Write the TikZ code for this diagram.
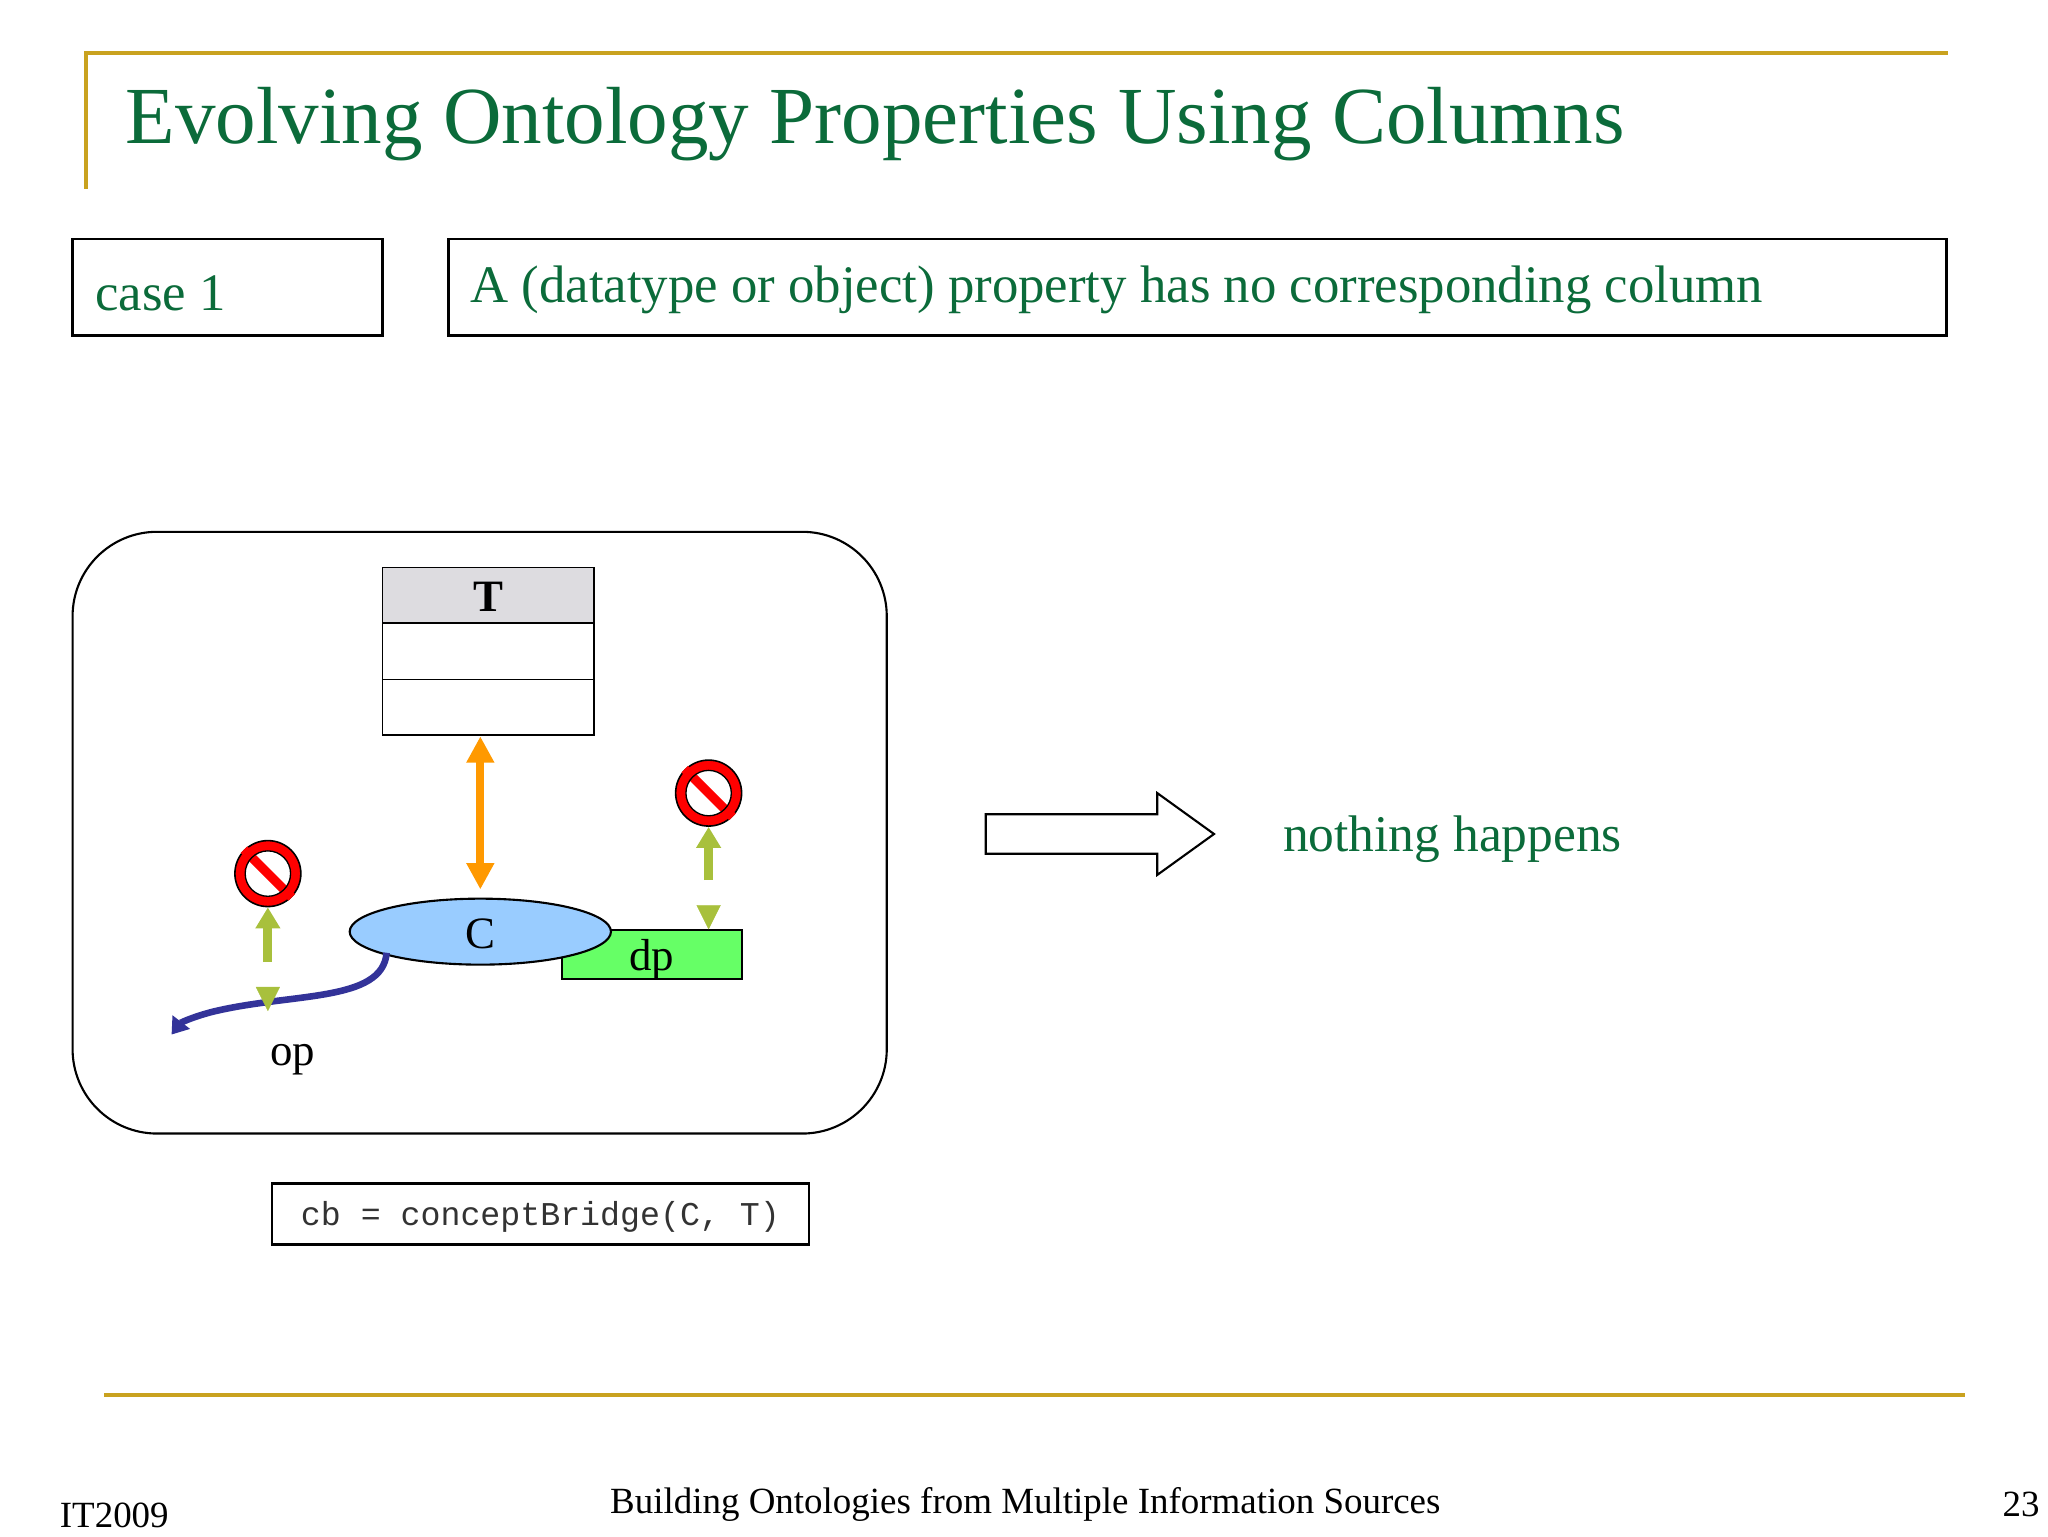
\documentclass[tikz,border=0pt]{standalone}
\usepackage{fontspec}
\setmainfont{Liberation Serif}
\setmonofont{Liberation Mono}
\usetikzlibrary{arrows.meta,shapes.arrows,shapes.geometric}
\definecolor{gold}{HTML}{C9A21F}
\definecolor{dgreen}{HTML}{0B6B3A}
\definecolor{lgreen}{HTML}{A8C03C}
\definecolor{orng}{HTML}{FF9900}
\definecolor{cblue}{HTML}{99CCFF}
\definecolor{dpgreen}{HTML}{66FF66}
\definecolor{navy}{HTML}{333399}
\definecolor{hdr}{HTML}{DDDCE0}
\tikzset{
  box/.style={draw=black,line width=1pt},
  gtxt/.style={text=dgreen,anchor=west,inner sep=0},
  nosign/.style={circle,draw=black,fill=red,minimum width=25pt,minimum height=25pt,inner sep=0,line width=0.6pt},
  garrow/.style={draw=lgreen,line width=3.5pt,-{Triangle[width=9pt,length=8pt]}},
  dtxt/.style={font=\fontsize{17}{19}\selectfont,inner sep=0}
}
\begin{document}
\begin{tikzpicture}[x=0.5pt,y=-0.5pt]
\useasboundingbox (0,0) rectangle (1552,1164);
% header
\draw[gold,line width=1.5pt] (65,143) -- (65,40) -- (1476,40);
\node[gtxt,font=\fontsize{30.7}{34}\selectfont] (title) at (95,94) {Evolving Ontology Properties Using Columns};
\draw[box] (55,181) rectangle (290,254);
\node[gtxt,font=\fontsize{20}{22}\selectfont] (case) at (72,222) {case 1};
\draw[box] (340,181) rectangle (1475,254);
\node[gtxt,font=\fontsize{20}{22}\selectfont] (desc) at (356,220) {A (datatype or object) property has no corresponding column};
% diagram frame
\draw[line width=0.8pt,rounded corners=32pt] (55,403) rectangle (672,859);
% table T
\fill[hdr] (290,430) rectangle (450,472);
\draw[line width=0.6pt] (290,430) rectangle (450,557);
\draw[line width=0.6pt] (290,472) -- (450,472) (290,515) -- (450,515);
\node[dtxt,font=\bfseries\fontsize{17}{19}\selectfont] (T) at (370,452) {T};
\coordinate (Tb) at (364,558);
% dp and C
\node[draw=black,fill=dpgreen,line width=0.8pt,minimum width=68pt,minimum height=18.5pt,inner sep=0] (dp) at (494,723.5) {};
\node[dtxt] at (494,727) {dp};
\node[ellipse,draw=black,fill=cblue,line width=0.8pt,minimum width=99pt,minimum height=25pt,inner sep=0] (C) at (364,706) {};
\node[dtxt] (Ct) at (364,708) {C};
\coordinate (Ct0) at (364,674);
\draw[orng,line width=3pt,{Triangle[width=10pt,length=10pt]}-{Triangle[width=10pt,length=10pt]}] (Tb) -- (Ct0);
% op curve
\coordinate (opend) at (130,784);
\draw[navy,line width=2.5pt,-{Triangle[width=8pt,length=6pt]}] (293,722) .. controls (290,760) and (220,752) .. (160,767) .. controls (145,771) and (137,775) .. (opend);
\node[dtxt] (op) at (222,803) {op};
% no signs
\node[nosign] (ns1) at (537,601) {};
\node[nosign] (ns2) at (203,662) {};
\foreach \n in {ns1,ns2}{
  \fill[white] (\n.center) circle (8.6pt);
  \draw[red,line width=3.5pt] (\n.135) -- (\n.-45);
  \draw[black,line width=0.5pt] (\n.center) circle (8.6pt);
}
% green arrows
\coordinate (a1s) at (537,667);
\draw[garrow] (a1s) -- (ns1.south);
\draw[lgreen,line width=0.1pt,fill=lgreen] (528,686) -- (546,686) -- (537,704) -- cycle;
\coordinate (a2s) at (203,729);
\draw[garrow] (a2s) -- (ns2.south);
\draw[lgreen,line width=0.1pt,fill=lgreen] (194,748) -- (212,748) -- (203,766) -- cycle;
% block arrow
\draw[line width=0.8pt] (747,617) -- (877,617) -- (877,601) -- (920,632) -- (877,663) -- (877,647) -- (747,647) -- cycle;
\node[gtxt,font=\fontsize{19.5}{22}\selectfont] (nh) at (972,636) {nothing happens};
% code box
\draw[box] (206,897) rectangle (613,943);
\node[font=\ttfamily\fontsize{12.6}{14}\selectfont,text=black!80,inner sep=0] (code) at (409.5,922) {cb = conceptBridge(C, T)};
% footer
\draw[gold,line width=1.5pt] (79,1057) -- (1489,1057);
\node[anchor=west,inner sep=0,font=\fontsize{14}{16}\selectfont] (it) at (45,1148) {IT2009};
\node[inner sep=0,font=\fontsize{14}{16}\selectfont] (ft) at (777,1140) {Building Ontologies from Multiple Information Sources};
\node[anchor=east,inner sep=0,font=\fontsize{14}{16}\selectfont] (pg) at (1546,1140) {23};
\end{tikzpicture}
\end{document}
